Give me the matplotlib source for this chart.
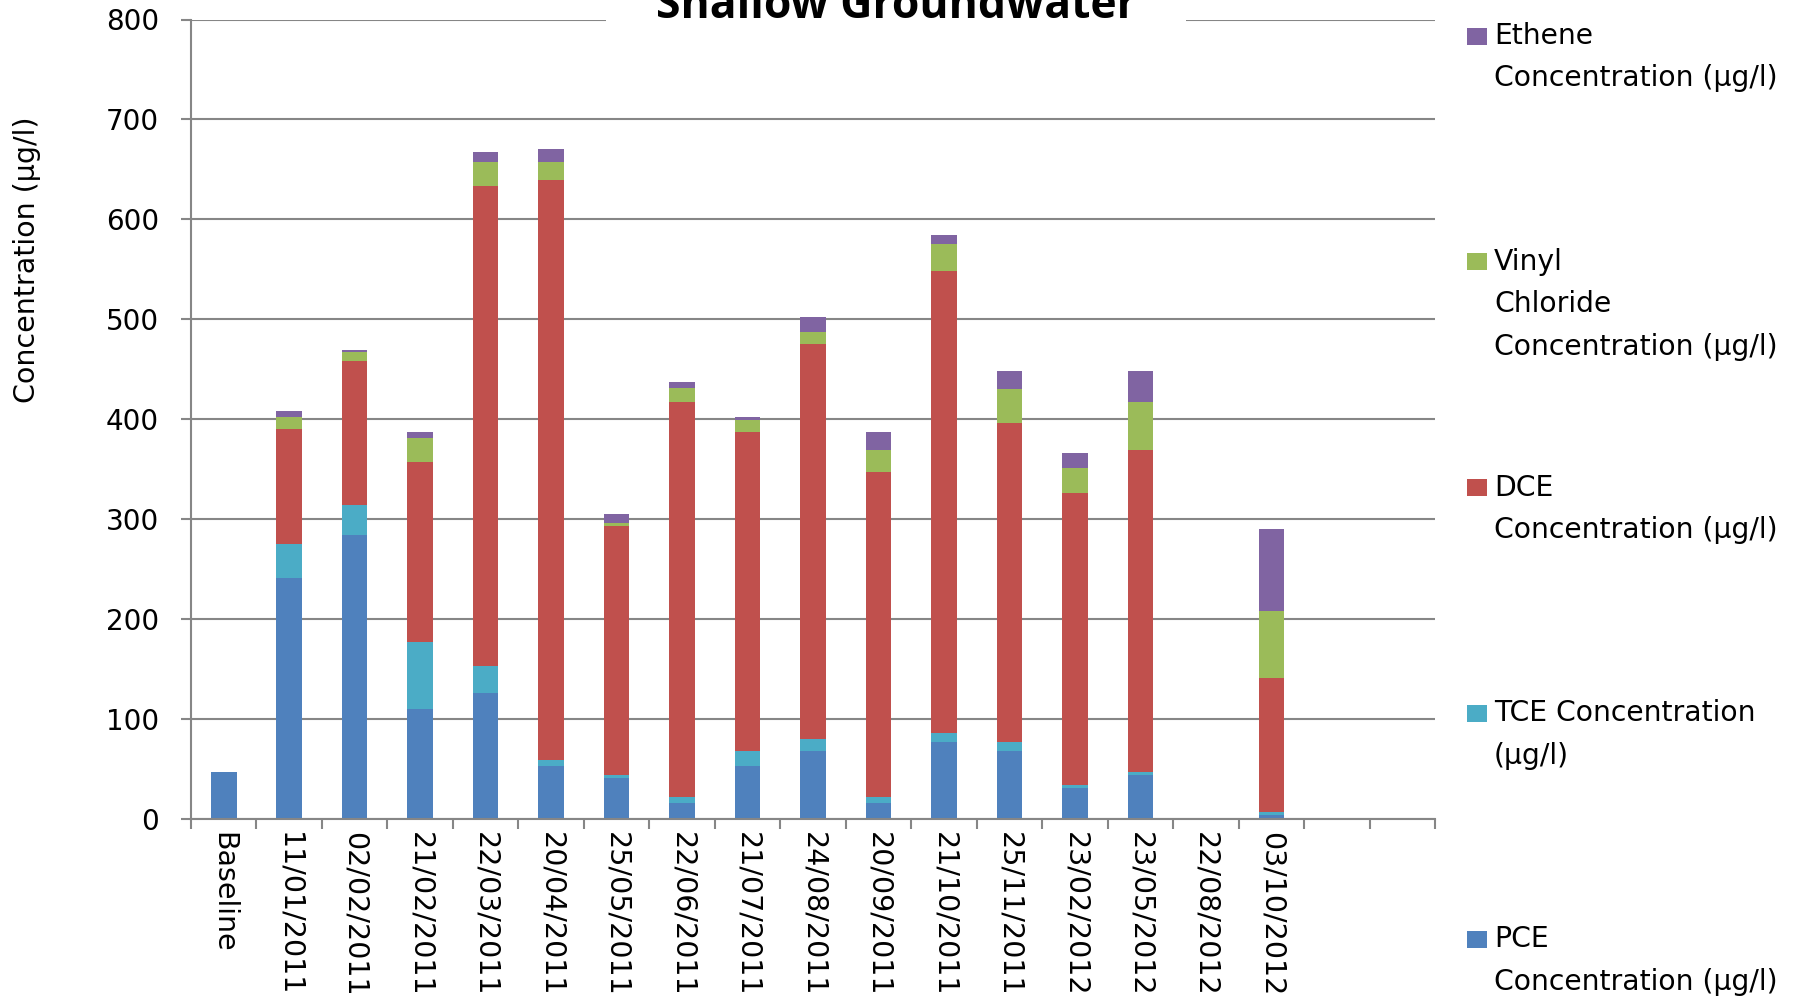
import matplotlib.pyplot as plt
from matplotlib.patches import Rectangle
import numpy as np

# sampling dates (two empty slots at the end, as in the source sheet)
dates = ['Baseline', '11/01/2011', '02/02/2011', '21/02/2011', '22/03/2011',
         '20/04/2011', '25/05/2011', '22/06/2011', '21/07/2011', '24/08/2011',
         '20/09/2011', '21/10/2011', '25/11/2011', '23/02/2012', '23/05/2012',
         '22/08/2012', '03/10/2012', '', '']

# concentrations (ug/l)
pce = [47, 241, 284, 110, 126, 53, 41, 16, 53, 68, 16, 77, 68, 31, 44, 0, 4, 0, 0]
tce = [0, 34, 30, 67, 27, 6, 3, 6, 15, 12, 6, 9, 9, 3, 3, 0, 3, 0, 0]
dce = [0, 115, 144, 180, 480, 580, 249, 395, 319, 395, 325, 462, 319, 292, 322, 0, 134, 0, 0]
vinyl = [0, 12, 9, 24, 24, 18, 3, 14, 12, 12, 22, 27, 34, 25, 48, 0, 67, 0, 0]
ethene = [0, 6, 2, 6, 10, 13, 9, 6, 3, 15, 18, 9, 18, 15, 31, 0, 82, 0, 0]

series = [pce, tce, dce, vinyl, ethene]
colors = ['#4F81BD', '#4BACC6', '#C0504D', '#9BBB59', '#8064A2']
legend_labels = ['Ethene\nConcentration (µg/l)',
                 'Vinyl\nChloride\nConcentration (µg/l)',
                 'DCE\nConcentration (µg/l)',
                 'TCE Concentration\n(µg/l)',
                 'PCE\nConcentration (µg/l)']

W, H = 1794, 998
grey = '#868686'
plt.rcParams['font.family'] = ['DejaVu Sans']

fig = plt.figure(figsize=(W / 100, H / 100), dpi=100)
ax = fig.add_axes([191 / W, 1 - 819 / H, (1435 - 191) / W, (819 - 19.5) / H])

x = np.arange(len(dates))
bottom = np.zeros(len(dates))
for vals, c in zip(series, colors):
    ax.bar(x, vals, width=0.39, bottom=bottom, color=c, zorder=2)
    bottom += np.array(vals)

ax.set_xlim(-0.5, len(dates) - 0.5)
ax.set_ylim(0, 800)
ax.set_yticks(np.arange(0, 801, 100))
ax.grid(axis='y', color=grey, linewidth=1.5, zorder=0)
ax.set_axisbelow(True)
for s in ['top', 'right']:
    ax.spines[s].set_visible(False)
for s in ['left', 'bottom']:
    ax.spines[s].set_color(grey)
    ax.spines[s].set_linewidth(1.5)

ax.set_xticks(x)
ax.set_xticklabels(dates, rotation=-90, fontsize=20.5)
ax.set_xticks(np.arange(-0.5, len(dates), 1), minor=True)
ax.tick_params(axis='x', which='major', length=0, pad=9)
ax.tick_params(axis='x', which='minor', length=7, width=1.5, color=grey)
ax.tick_params(axis='y', length=7, width=1.5, color=grey, pad=16, labelsize=20)

# title with white box hiding the top gridline
fig.add_artist(Rectangle((606 / W, 1 - 45 / H), 580 / W, 45 / H,
                         transform=fig.transFigure, facecolor='white',
                         edgecolor='none', zorder=4))
fig.text(896 / W, 1 - 18 / H, 'Shallow Groundwater', ha='center', va='baseline',
         fontsize=32, fontweight='bold', family='Open Sans', zorder=5)

fig.text(27 / W, 1 - 260 / H, 'Concentration (µg/l)', rotation=90,
         ha='center', va='center', fontsize=20.5)

# legend, drawn by hand (top entry = top of the stack)
leg_colors = colors[::-1]
for i, (lab, c) in enumerate(zip(legend_labels, leg_colors)):
    yc = 36 + i * 225.75
    fig.add_artist(Rectangle((1467 / W, 1 - (yc + 8.5) / H), 20 / W, 17 / H,
                             transform=fig.transFigure, facecolor=c,
                             edgecolor='none'))
    for j, line in enumerate(lab.split('\n')):
        fig.text(1494 / W, 1 - (yc + j * 42.5) / H, line, ha='left',
                 va='center', fontsize=20.3)

fig.savefig('out.png', dpi=100)
